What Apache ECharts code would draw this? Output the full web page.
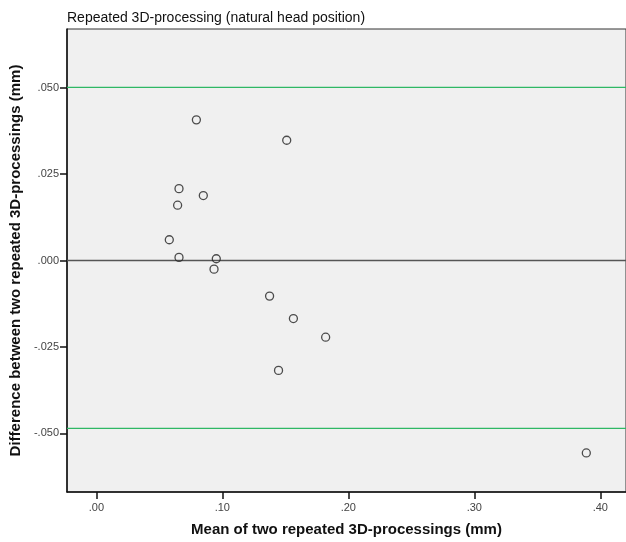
<!DOCTYPE html>
<html>
<head>
<meta charset="utf-8">
<script src="https://cdn.jsdelivr.net/npm/echarts@6/dist/echarts.min.js"></script>
<style>html,body{margin:0;padding:0;background:#fff;}#c{width:626px;height:542px;}</style>
</head>
<body>
<div id="c"></div>
<script>
// Data
var meanValues = [0.0794, 0.1511, 0.0656, 0.0849, 0.0645, 0.0579, 0.0656, 0.0952, 0.0934, 0.1375, 0.1564, 0.1820, 0.1446, 0.3889];
var diffValues = [0.0407, 0.0348, 0.0208, 0.0188, 0.0160, 0.0060, 0.0009, 0.0005, -0.0025, -0.0103, -0.0168, -0.0222, -0.0318, -0.0557];
var upperLimit = 0.0501;
var lowerLimit = -0.0486;
var zeroLine = 0.0;
var xMin = -0.0233, xMax = 0.4204;
var yMin = -0.067, yMax = 0.067;
var xTicks = [0, 0.1, 0.2, 0.3, 0.4];
var xTickLabels = ['.00', '.10', '.20', '.30', '.40'];
var yTicks = [0.05, 0.025, 0, -0.025, -0.05];
var yTickLabels = ['.050', '.025', '.000', '-.025', '-.050'];

var points = meanValues.map(function (m, i) { return [m, diffValues[i]]; });
function hline(v) { return [[xMin, v], [xMax, v]]; }
function lookup(ticks, labels, v) {
  for (var i = 0; i < ticks.length; i++) { if (Math.abs(ticks[i] - v) < 1e-9) return labels[i]; }
  return '';
}
var font = 'Liberation Sans, Arial, sans-serif';
var chart = echarts.init(document.getElementById('c'), null, {renderer: 'canvas'});
chart.setOption({
  animation: false,
  backgroundColor: '#ffffff',
  title: {
    text: 'Repeated 3D-processing (natural head position)',
    left: 62, top: 6,
    textStyle: {fontFamily: font, fontSize: 14, fontWeight: 'normal', color: '#111'}
  },
  grid: {
    left: 67, top: 29, width: 563, height: 463,
    show: true, backgroundColor: '#f0f0f0', borderColor: '#333', borderWidth: 1
  },
  xAxis: {
    type: 'value', min: xMin, max: xMax,
    name: 'Mean of two repeated 3D-processings (mm)',
    nameLocation: 'middle', nameGap: 30,
    nameTextStyle: {fontFamily: font, fontSize: 15, fontWeight: 'bold', color: '#111'},
    axisLine: {show: true, onZero: false, lineStyle: {color: '#111', width: 1.5}},
    axisTick: {show: true, length: 7, customValues: xTicks, lineStyle: {color: '#111', width: 1.5}},
    axisLabel: {customValues: xTicks, fontFamily: font, fontSize: 11, color: '#444', margin: 10,
      formatter: function (v) { return lookup(xTicks, xTickLabels, v); }},
    splitLine: {show: false}
  },
  yAxis: {
    type: 'value', min: yMin, max: yMax,
    name: 'Difference between two repeated 3D-processings (mm)',
    nameLocation: 'middle', nameGap: 42,
    nameTextStyle: {fontFamily: font, fontSize: 15, fontWeight: 'bold', color: '#111'},
    axisLine: {show: true, onZero: false, lineStyle: {color: '#111', width: 1.5}},
    axisTick: {show: true, length: 7, customValues: yTicks, lineStyle: {color: '#111', width: 1.5}},
    axisLabel: {customValues: yTicks, fontFamily: font, fontSize: 11, color: '#444', margin: 8,
      formatter: function (v) { return lookup(yTicks, yTickLabels, v); }},
    splitLine: {show: false}
  },
  series: [
    {type: 'line', data: hline(upperLimit), silent: true, symbol: 'none',
      lineStyle: {color: '#2fb865', width: 1.2}, z: 1},
    {type: 'line', data: hline(lowerLimit), silent: true, symbol: 'none',
      lineStyle: {color: '#2fb865', width: 1.2}, z: 1},
    {type: 'line', data: hline(zeroLine), silent: true, symbol: 'none',
      lineStyle: {color: '#555', width: 1.6}, z: 1},
    {
      type: 'scatter', data: points, symbol: 'circle', symbolSize: 8, z: 3,
      itemStyle: {color: 'rgba(0,0,0,0)', borderColor: '#222', borderWidth: 1.3}
    }
  ]
});
</script>
</body>
</html>
